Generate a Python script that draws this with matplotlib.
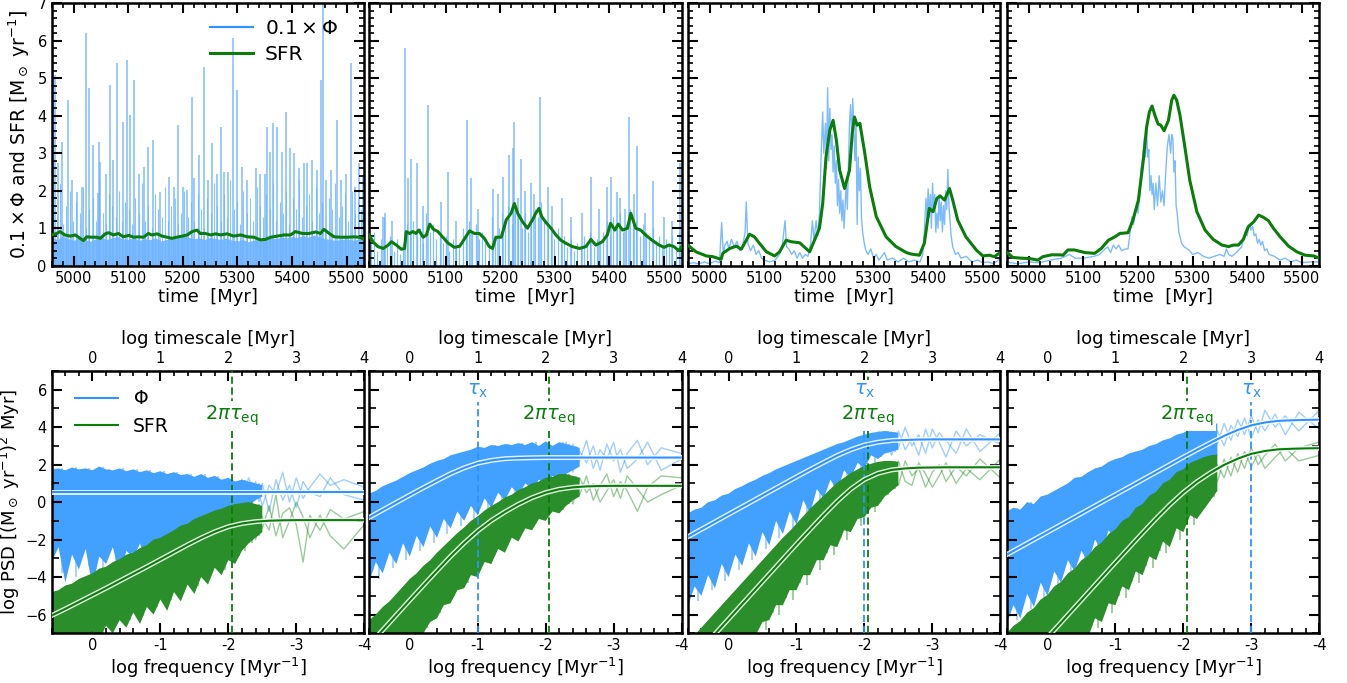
import numpy as np
import matplotlib
matplotlib.use("Agg")
import matplotlib.pyplot as plt
from matplotlib.ticker import MultipleLocator, FixedLocator

# ---------------------------------------------------------------- colours
BLUE = "#2f93ff"
BLUE_LIGHT = "#6fb4ff"
BLUE_CORE = "#42a0ff"
GREEN = "#0a7d0a"
GREEN_BAND = "#228b22"
GREEN_CORE = "#2a8f2a"

# ---------------------------------------------------------------- top row: time series
T_LIM = (4960, 5532)

# panel 1 : 0.1*Phi as a dense floor plus spikes, SFR nearly flat
p1_floor = [0.75, 0.7, 0.8, 0.72, 0.68, 0.74, 0.7, 0.65, 0.72, 0.76,
            0.7, 0.74, 0.78, 0.72, 0.7, 0.75, 0.68, 0.72, 0.7, 0.74,
            0.66, 0.7, 0.75, 0.72, 0.8, 0.76, 0.72, 0.74, 0.7, 0.76,
            0.72, 0.7, 0.74, 0.68, 0.66, 0.7, 0.64, 0.68, 0.72, 0.7,
            0.74, 0.72, 0.76, 0.74, 0.78, 0.75, 0.8, 0.76, 0.82, 0.78,
            0.72, 0.7, 0.68, 0.7, 0.72, 0.68, 0.7, 0.72]
p1_hair = [1.9, 1.3, 2.2, 1.1, 1.6, 2.0, 1.2, 1.7, 1.4, 2.1, 1.0, 1.5, 1.8, 1.2, 2.3, 1.4,
           1.1, 1.9, 1.6, 1.3, 2.0, 1.2, 1.7, 1.5, 1.1, 1.8, 1.4, 2.2, 1.2, 1.6, 1.0, 1.9,
           1.5, 1.3, 2.1, 1.2, 1.6, 1.8, 1.1, 1.4, 2.0, 1.3, 1.7, 1.2, 1.9, 1.5, 1.0, 1.8,
           1.4, 2.2, 1.6, 1.2, 1.9, 1.3, 2.3, 1.5, 1.7, 1.1, 2.0, 1.4, 1.8, 1.2, 2.1, 1.6,
           1.3, 1.9, 1.5, 2.2, 1.2, 1.7, 1.4, 2.0, 1.1, 1.8, 1.5, 2.3, 1.3, 1.6, 1.9, 1.2,
           2.1, 1.4, 1.7, 1.0, 1.8, 1.5, 2.2, 1.3, 1.6, 1.9, 1.2, 2.0, 1.4, 1.7, 1.5]
p1_spikes = [(4962, 5.9), (4966, 5.09), (4972, 2.73), (4978, 3.31), (4989, 4.42), (4997, 2.29),
             (5006, 1.98), (5015, 2.1), (5023, 6.2), (5029, 4.73), (5036, 3.22), (5044, 1.93),
             (5046, 3.31), (5049, 2.78), (5060, 2.46), (5066, 4.82), (5073, 2.82), (5080, 5.4),
             (5091, 3.84), (5098, 5.5), (5103, 4.02), (5110, 4.95), (5119, 2.46), (5129, 2.64),
             (5137, 3.18), (5145, 3.35), (5159, 1.98), (5174, 2.37), (5183, 2.1), (5192, 3.75),
             (5200, 2.1), (5208, 2.02), (5216, 4.51), (5221, 2.33), (5229, 2.95), (5238, 5.3),
             (5246, 2.29), (5254, 3.27), (5262, 2.46), (5269, 3.71), (5276, 2.51), (5283, 2.51),
             (5292, 6.07), (5299, 4.69), (5309, 2.64), (5318, 2.29), (5333, 2.6), (5341, 2.46),
             (5351, 2.46), (5354, 3.71), (5359, 3.04), (5365, 3.8), (5373, 3.71), (5382, 3.04),
             (5388, 4.11), (5396, 3.13), (5403, 3.0), (5413, 2.6), (5421, 2.73), (5428, 2.73),
             (5437, 2.82), (5445, 2.55), (5452, 4.95), (5456, 7.0), (5462, 2.29), (5471, 2.55),
             (5482, 3.89), (5490, 2.29), (5498, 2.46), (5507, 5.4), (5515, 2.1), (5523, 2.73),
             (5529, 2.37)]
p1_sfr = [(4960, 0.82), (4969, 0.86), (4975, 0.91), (4984, 0.82), (4994, 0.79), (5003, 0.82),
          (5012, 0.73), (5018, 0.67), (5024, 0.77), (5033, 0.76), (5043, 0.76), (5049, 0.73),
          (5058, 0.85), (5064, 0.88), (5073, 0.82), (5082, 0.86), (5091, 0.77), (5101, 0.81),
          (5110, 0.76), (5119, 0.77), (5128, 0.76), (5137, 0.86), (5143, 0.82), (5153, 0.85),
          (5162, 0.79), (5171, 0.76), (5180, 0.73), (5189, 0.76), (5199, 0.79), (5208, 0.82),
          (5217, 0.91), (5226, 0.95), (5232, 0.86), (5241, 0.86), (5251, 0.82), (5260, 0.85),
          (5269, 0.82), (5281, 0.85), (5293, 0.79), (5306, 0.82), (5318, 0.77), (5330, 0.76),
          (5342, 0.69), (5351, 0.70), (5361, 0.76), (5373, 0.79), (5385, 0.82), (5397, 0.82),
          (5406, 0.91), (5419, 0.86), (5431, 0.86), (5443, 0.9), (5452, 0.86), (5458, 0.97),
          (5468, 0.86), (5477, 0.77), (5489, 0.76), (5501, 0.76), (5514, 0.77), (5523, 0.76),
          (5532, 0.7)]

# panel 2
p2_hair = [0.6, 0.9, 0.4, 0.7, 1.3, 0.5, 0.8,
           0.4, 0.7, 0.3, 0.6, 1.1, 0.9,
           1.2, 0.8, 1.0, 0.6, 1.4, 0.9, 1.1, 0.7,
           0.9, 0.6, 0.8, 0.4, 0.7, 0.5, 0.6,
           1.0, 0.8, 1.2, 0.9, 1.1, 0.7, 0.9, 0.6,
           0.5, 1.3, 0.7, 1.0, 1.4,
           1.2, 1.6, 1.1, 1.5, 1.3, 1.0, 1.4, 0.9, 1.2, 1.5, 1.3, 1.7, 1.2, 1.0,
           0.9, 0.7, 1.0, 0.6, 0.8, 0.5, 0.7, 0.4, 0.6, 0.5, 0.8, 0.6, 0.9, 0.5, 0.7, 0.6,
           0.9, 1.2, 0.8, 1.3, 1.0, 1.4, 0.9, 1.1, 1.5, 1.0, 1.2, 0.8, 1.1,
           0.9, 0.7, 1.0, 0.6, 0.8, 0.5, 0.7, 0.6, 0.8, 0.5, 0.9]
p2_spikes = [(4985, 1.3), (4989, 1.4), (5002, 1.2), (5025, 5.8), (5031, 2.33), (5037, 2.86),
             (5048, 2.75), (5058, 1.6), (5068, 4.28), (5092, 1.7), (5104, 2.5), (5120, 1.2),
             (5139, 3.88), (5147, 2.33), (5160, 1.5), (5186, 2.06), (5196, 1.9), (5206, 2.37),
             (5217, 2.95), (5223, 3.13), (5226, 3.84), (5232, 1.8), (5238, 2.86), (5245, 2.0),
             (5256, 2.21), (5262, 1.9), (5272, 4.5), (5287, 2.1), (5295, 1.6), (5313, 1.8),
             (5330, 1.3), (5350, 1.4), (5366, 2.37), (5380, 1.5), (5396, 2.1), (5402, 2.37),
             (5413, 1.97), (5420, 1.8), (5428, 1.5), (5436, 3.97), (5445, 1.9), (5451, 3.2),
             (5465, 1.4), (5480, 2.26), (5500, 1.3), (5515, 1.2), (5530, 2.73)]
p2_sfr = [(4960, 0.82), (4967, 0.64), (4976, 0.51), (4986, 0.46), (4995, 0.55), (5001, 0.64),
          (5010, 0.55), (5019, 0.44), (5025, 0.46), (5028, 0.91), (5034, 0.86), (5040, 0.91),
          (5046, 0.86), (5051, 0.95), (5059, 0.76), (5065, 0.82), (5071, 1.11), (5078, 0.97),
          (5086, 0.91), (5095, 0.76), (5104, 0.61), (5116, 0.49), (5126, 0.52), (5137, 0.77),
          (5144, 0.93), (5153, 0.86), (5162, 0.86), (5171, 0.73), (5180, 0.51), (5186, 0.46),
          (5192, 0.76), (5202, 0.76), (5211, 1.22), (5220, 1.4), (5226, 1.66), (5232, 1.4),
          (5241, 1.17), (5250, 1.0), (5259, 1.22), (5265, 1.4), (5271, 1.53), (5276, 1.31),
          (5284, 1.15), (5293, 1.0), (5302, 0.82), (5311, 0.68), (5320, 0.6), (5332, 0.51),
          (5345, 0.46), (5357, 0.51), (5366, 0.7), (5375, 0.55), (5387, 0.64), (5396, 0.82),
          (5402, 1.13), (5410, 0.95), (5416, 1.11), (5424, 0.95), (5433, 1.0), (5439, 1.4),
          (5448, 1.0), (5457, 0.95), (5466, 0.82), (5478, 0.68), (5491, 0.55), (5500, 0.49),
          (5509, 0.55), (5518, 0.51), (5527, 0.4), (5532, 0.51)]

# panel 3
p3_phi = [(4960, 0.05), (4970, 0.08), (4980, 0.05), (4990, 0.1), (5000, 0.05), (5010, 0.12),
          (5018, 0.08), (5022, 1.15), (5025, 0.3), (5028, 0.55), (5032, 0.65), (5035, 0.45),
          (5040, 0.7), (5045, 0.5), (5050, 0.65), (5055, 0.4), (5060, 0.5), (5065, 0.9),
          (5067, 1.7), (5070, 0.6), (5075, 0.4), (5080, 0.55), (5085, 0.3), (5090, 0.4),
          (5095, 0.2), (5100, 0.15), (5110, 0.1), (5120, 0.15), (5128, 0.3), (5133, 0.55),
          (5138, 1.2), (5141, 0.5), (5145, 0.45), (5150, 0.3), (5155, 0.4), (5160, 0.2),
          (5165, 0.35), (5170, 0.2), (5175, 0.3), (5180, 0.25), (5185, 0.6), (5188, 1.2),
          (5191, 0.7), (5195, 1.2), (5198, 0.8), (5201, 1.4), (5204, 2.9), (5207, 4.1),
          (5209, 3.0), (5212, 3.8), (5214, 2.6), (5216, 4.75), (5218, 2.8), (5220, 4.2),
          (5222, 3.1), (5224, 3.5), (5226, 2.5), (5228, 3.2), (5230, 2.2), (5232, 2.8),
          (5234, 1.6), (5236, 2.3), (5238, 1.4), (5240, 2.0), (5242, 1.2), (5244, 1.75),
          (5246, 1.0), (5248, 1.6), (5250, 2.2), (5252, 1.5), (5254, 2.6), (5256, 3.8),
          (5258, 4.3), (5260, 3.4), (5262, 4.46), (5264, 3.6), (5266, 2.8), (5268, 3.9),
          (5270, 1.1), (5272, 2.9), (5274, 2.0), (5276, 2.6), (5278, 1.3), (5280, 0.9),
          (5283, 0.6), (5286, 0.4), (5290, 0.3), (5295, 0.45), (5300, 0.2), (5305, 0.3),
          (5310, 0.15), (5320, 0.35), (5325, 0.15), (5335, 0.2), (5345, 0.1), (5355, 0.2),
          (5365, 0.1), (5375, 0.15), (5385, 0.1), (5390, 0.3), (5393, 0.9), (5396, 1.8),
          (5398, 1.2), (5400, 2.05), (5402, 1.3), (5404, 1.9), (5406, 1.0), (5408, 2.2),
          (5410, 1.5), (5412, 1.9), (5414, 0.9), (5416, 1.4), (5418, 1.0), (5420, 1.9),
          (5422, 1.2), (5424, 1.7), (5426, 0.9), (5428, 1.6), (5430, 1.1), (5432, 2.0),
          (5434, 1.5), (5436, 2.57), (5438, 1.6), (5440, 1.2), (5442, 0.8), (5445, 0.5),
          (5450, 0.3), (5455, 0.35), (5460, 0.2), (5470, 0.25), (5480, 0.1), (5490, 0.15),
          (5500, 0.08), (5510, 0.1), (5520, 0.05), (5532, 0.2)]
p3_sfr = [(4960, 0.55), (4975, 0.37), (4994, 0.26), (5006, 0.24), (5021, 0.17), (5024, 0.33),
          (5037, 0.46), (5049, 0.52), (5058, 0.44), (5067, 0.68), (5073, 0.84), (5082, 0.77),
          (5091, 0.6), (5104, 0.37), (5119, 0.26), (5128, 0.37), (5140, 0.68), (5149, 0.64),
          (5165, 0.61), (5183, 0.37), (5192, 0.68), (5201, 1.0), (5207, 1.66), (5213, 2.9),
          (5220, 3.62), (5226, 3.88), (5232, 3.35), (5238, 2.55), (5247, 2.06), (5256, 2.55),
          (5261, 3.53), (5265, 3.97), (5270, 3.75), (5275, 3.8), (5284, 3.0), (5293, 2.1),
          (5305, 1.31), (5323, 0.77), (5341, 0.51), (5360, 0.35), (5369, 0.31), (5384, 0.28),
          (5393, 0.6), (5402, 1.53), (5409, 1.44), (5416, 1.8), (5422, 1.86), (5430, 1.75),
          (5439, 2.06), (5445, 1.75), (5454, 1.22), (5469, 0.77), (5488, 0.42), (5500, 0.26),
          (5512, 0.28), (5521, 0.24), (5530, 0.33)]

# panel 4
p4_phi = [(4960, 0.1), (4980, 0.05), (5000, 0.1), (5020, 0.08), (5040, 0.15), (5060, 0.2),
          (5075, 0.3), (5085, 0.2), (5100, 0.2), (5120, 0.25), (5130, 0.3), (5140, 0.45),
          (5145, 0.5), (5150, 0.35), (5155, 0.55), (5160, 0.45), (5165, 0.55), (5170, 0.4),
          (5178, 0.45), (5182, 0.45), (5186, 0.9), (5189, 1.3), (5192, 1.1), (5195, 1.4),
          (5198, 1.6), (5200, 1.4), (5203, 1.8), (5206, 2.6), (5209, 2.9), (5212, 3.4),
          (5214, 2.9), (5216, 3.6), (5218, 2.9), (5220, 3.1), (5222, 2.0), (5224, 2.4),
          (5226, 1.9), (5228, 2.2), (5230, 1.5), (5233, 2.2), (5236, 1.6), (5239, 2.4),
          (5242, 1.7), (5245, 2.0), (5248, 1.6), (5251, 2.5), (5254, 3.2), (5257, 3.5),
          (5260, 3.0), (5262, 3.5), (5264, 3.4), (5266, 2.5), (5268, 2.8), (5270, 1.6),
          (5272, 1.4), (5275, 0.9), (5280, 0.6), (5285, 0.5), (5290, 0.45), (5295, 0.4),
          (5300, 0.3), (5310, 0.35), (5320, 0.25), (5330, 0.2), (5340, 0.25), (5350, 0.3),
          (5358, 0.25), (5362, 0.45), (5366, 0.3), (5372, 0.25), (5380, 0.35), (5390, 0.5),
          (5396, 0.9), (5400, 0.8), (5404, 1.1), (5407, 0.95), (5410, 1.05), (5413, 0.8),
          (5416, 0.85), (5419, 0.6), (5422, 0.7), (5425, 0.55), (5428, 0.65), (5432, 0.4),
          (5436, 0.45), (5440, 0.3), (5450, 0.25), (5460, 0.15), (5470, 0.2), (5480, 0.1),
          (5490, 0.15), (5500, 0.08), (5515, 0.1), (5532, 0.1)]
p4_sfr = [(4961, 0.35), (4971, 0.22), (4987, 0.2), (5002, 0.19), (5017, 0.15), (5026, 0.24),
          (5042, 0.29), (5057, 0.29), (5063, 0.28), (5072, 0.42), (5084, 0.42), (5103, 0.35),
          (5121, 0.33), (5133, 0.46), (5146, 0.68), (5158, 0.77), (5167, 0.86), (5182, 0.88),
          (5191, 1.22), (5201, 1.75), (5210, 2.82), (5216, 3.7), (5221, 4.1), (5226, 4.26),
          (5231, 4.02), (5237, 3.78), (5242, 3.75), (5248, 3.6), (5256, 3.88), (5262, 4.42),
          (5266, 4.55), (5271, 4.42), (5277, 4.02), (5286, 3.17), (5295, 2.28), (5308, 1.44),
          (5323, 0.95), (5338, 0.7), (5354, 0.55), (5366, 0.51), (5375, 0.55), (5384, 0.55),
          (5393, 0.7), (5402, 1.04), (5412, 1.17), (5421, 1.35), (5430, 1.29), (5439, 1.2),
          (5448, 1.0), (5461, 0.76), (5476, 0.52), (5491, 0.37), (5506, 0.28), (5522, 0.26),
          (5532, 0.2)]

# ---------------------------------------------------------------- bottom row: power spectra
# model curves sampled in log frequency
model_lf = [0.6, 0.4, 0.2, 0.0, -0.2, -0.4, -0.6, -0.8, -1.0, -1.2, -1.4, -1.6,
            -1.8, -2.0, -2.2, -2.4, -2.6, -2.8, -3.0, -3.2, -3.4, -3.6, -3.8, -4.0]
m1_phi = [0.55] * 24
m1_sfr = [-6.05, -5.7, -5.33, -4.96, -4.59, -4.21, -3.83, -3.45, -3.06, -2.67, -2.28, -1.91,
          -1.58, -1.31, -1.14, -1.04, -0.99, -0.97, -0.96, -0.96, -0.96, -0.96, -0.96, -0.96]
m2_phi = [-0.82, -0.42, -0.02, 0.38, 0.77, 1.15, 1.52, 1.83, 2.08, 2.23, 2.32, 2.35,
          2.37, 2.38, 2.38, 2.38, 2.38, 2.38, 2.38, 2.38, 2.38, 2.38, 2.38, 2.38]
m2_sfr = [-7.63, -6.83, -6.03, -5.23, -4.44, -3.66, -2.89, -2.18, -1.53, -0.98, -0.52, -0.11,
          0.24, 0.51, 0.69, 0.79, 0.84, 0.86, 0.87, 0.87, 0.87, 0.87, 0.87, 0.87]
m3_phi = [-1.85, -1.45, -1.05, -0.65, -0.25, 0.15, 0.55, 0.95, 1.35, 1.74, 2.12, 2.49,
          2.80, 3.05, 3.20, 3.29, 3.32, 3.34, 3.35, 3.35, 3.35, 3.35, 3.35, 3.35]
m3_sfr = [-8.64, -7.84, -7.04, -6.24, -5.44, -4.64, -3.84, -3.04, -2.24, -1.46, -0.69, 0.05,
          0.70, 1.21, 1.54, 1.72, 1.80, 1.84, 1.85, 1.86, 1.86, 1.86, 1.86, 1.86]
m4_phi = [-2.8, -2.4, -2.0, -1.6, -1.2, -0.8, -0.4, 0.0, 0.4, 0.8, 1.2, 1.6,
          2.0, 2.4, 2.79, 3.17, 3.54, 3.85, 4.10, 4.25, 4.34, 4.37, 4.39, 4.40]
m4_sfr = [-9.62, -8.82, -8.02, -7.22, -6.42, -5.62, -4.82, -4.02, -3.22, -2.43, -1.64, -0.87,
          -0.14, 0.52, 1.09, 1.57, 1.99, 2.32, 2.58, 2.73, 2.82, 2.85, 2.87, 2.88]

# envelope of the densely sampled periodograms (high-frequency part)
band_lf = [0.6, 0.5, 0.4, 0.3, 0.2, 0.1, 0.0, -0.1, -0.2, -0.3, -0.4, -0.5, -0.6, -0.7, -0.8,
           -0.9, -1.0, -1.1, -1.2, -1.3, -1.4, -1.5, -1.6, -1.7, -1.8, -1.9, -2.0, -2.1, -2.2,
           -2.3, -2.4, -2.5]
b1_phi_hi = [1.75, 1.8, 1.7, 1.85, 1.75, 1.8, 1.7, 1.9, 1.75, 1.7, 1.8, 1.65, 1.75, 1.6, 1.7,
             1.55, 1.65, 1.5, 1.6, 1.45, 1.5, 1.35, 1.5, 1.3, 1.4, 1.2, 1.3, 1.1, 1.2, 1.1, 1.0, 0.9]
b1_phi_lo = [-3.2, -2.4, -4.3, -2.8, -3.6, -2.5, -4.5, -2.9, -3.3, -2.4, -3.9, -2.6, -3.0, -2.2, -3.4,
             -2.3, -2.7, -1.9, -2.9, -1.8, -2.3, -1.5, -2.1, -1.3, -1.7, -1.0, -1.4, -0.7, -0.9,
             -0.2, 0.1, 0.3]
b1_sfr_hi = [-4.8, -4.7, -4.45, -4.35, -4.1, -3.95, -3.8, -3.55, -3.45, -3.2, -3.05, -2.8, -2.7, -2.45,
             -2.3, -2.0, -1.9, -1.7, -1.5, -1.25, -1.15, -0.9, -0.75, -0.6, -0.45, -0.35, -0.2, -0.1,
             -0.05, 0.0, -0.1, -0.2]
b1_sfr_lo = [-7.5, -7.5, -7.4, -7.5, -7.2, -7.5, -6.9, -7.3, -6.6, -7.0, -6.3, -6.7, -5.9, -6.5, -5.6,
             -6.0, -5.2, -5.8, -4.8, -5.3, -4.4, -4.9, -4.0, -4.4, -3.5, -3.9, -3.1, -3.3, -2.6,
             -2.2, -1.9, -1.6]
b2_phi_hi = [0.45, 0.6, 0.85, 1.0, 1.15, 1.35, 1.55, 1.7, 1.85, 2.05, 2.2, 2.3, 2.5, 2.6, 2.7,
             2.8, 2.95, 2.9, 3.05, 3.0, 3.1, 3.05, 3.15, 3.05, 3.2, 3.0, 3.25, 3.0, 3.2, 3.1, 3.0, 2.9]
b2_phi_lo = [-4.3, -3.2, -3.8, -2.7, -3.3, -2.2, -2.9, -1.8, -2.4, -1.3, -1.9, -0.9, -1.4, -0.5, -1.0,
             -0.2, -0.7, 0.2, -0.3, 0.5, 0.1, 0.8, 0.4, 1.0, 0.7, 1.2, 0.9, 1.4, 1.2, 1.5, 1.7, 1.9]
b2_sfr_hi = [-6.3, -6.0, -5.6, -5.3, -4.9, -4.5, -4.1, -3.8, -3.4, -3.1, -2.7, -2.35, -2.0, -1.65,
             -1.35, -1.0, -0.75, -0.45, -0.2, 0.0, 0.25, 0.4, 0.65, 0.8, 1.0, 1.1, 1.3, 1.35, 1.5,
             1.5, 1.4, 1.3]
b2_sfr_lo = [-8.0, -8.0, -8.0, -8.0, -8.0, -8.0, -7.8, -7.3, -7.0, -6.4, -6.2, -5.5, -5.4, -4.7, -4.6,
             -3.9, -4.0, -3.2, -3.3, -2.5, -2.7, -1.9, -2.1, -1.4, -1.5, -0.9, -1.0, -0.5, -0.6,
             -0.2, 0.1, 0.3]
b3_phi_hi = [-0.6, -0.4, -0.3, 0.0, 0.1, 0.35, 0.45, 0.7, 0.85, 1.05, 1.2, 1.4, 1.55, 1.75, 1.9,
             2.05, 2.2, 2.35, 2.5, 2.65, 2.8, 2.95, 3.1, 3.2, 3.35, 3.5, 3.6, 3.7, 3.75, 3.8, 3.75, 3.7]
b3_phi_lo = [-5.6, -4.5, -5.0, -3.9, -4.6, -3.3, -4.0, -2.8, -3.4, -2.2, -2.9, -1.6, -2.3, -1.0, -1.7,
             -0.5, -1.2, 0.1, -0.6, 0.7, 0.2, 1.2, 0.6, 1.7, 1.3, 2.1, 1.8, 2.5, 2.3, 2.6, 2.7, 2.8]
b3_sfr_hi = [-7.4, -7.1, -6.7, -6.3, -5.9, -5.5, -5.1, -4.7, -4.3, -3.9, -3.5, -3.1, -2.7, -2.3, -1.9,
             -1.55, -1.15, -0.75, -0.35, 0.0, 0.35, 0.7, 1.05, 1.3, 1.55, 1.75, 1.95, 2.05, 2.15,
             2.2, 2.2, 2.15]
b3_sfr_lo = [-9.0, -9.0, -9.0, -9.0, -9.0, -9.0, -8.6, -7.9, -7.9, -7.2, -7.1, -6.4, -6.3, -5.5, -5.5,
             -4.7, -4.7, -3.9, -3.9, -3.1, -3.1, -2.3, -2.4, -1.5, -1.6, -0.9, -0.8, -0.3, -0.2,
             0.3, 0.6, 0.9]
b4_phi_hi = [-0.5, -0.3, -0.4, 0.0, -0.1, 0.3, 0.4, 0.6, 0.8, 1.0, 1.3, 1.35, 1.6, 1.8, 1.9,
             2.15, 2.3, 2.4, 2.6, 2.7, 2.8, 3.0, 3.1, 3.3, 3.4, 3.6, 3.7, 3.9, 4.0, 4.1, 4.15, 4.2]
b4_phi_lo = [-6.5, -5.5, -6.2, -4.9, -5.6, -4.3, -5.0, -3.7, -4.3, -3.1, -3.7, -2.6, -3.2, -2.0, -2.6,
             -1.5, -2.1, -1.0, -1.5, -0.5, -1.0, 0.0, -0.3, 0.5, 0.3, 0.9, 0.8, 1.4, 1.3, 1.7, 2.1, 2.5]
b4_sfr_hi = [-7.0, -6.6, -6.35, -5.9, -5.65, -5.2, -4.95, -4.5, -4.25, -3.8, -3.55, -3.1, -2.85, -2.4,
             -2.15, -1.7, -1.45, -1.0, -0.8, -0.3, -0.1, 0.35, 0.55, 1.0, 1.2, 1.6, 1.75, 2.1, 2.25,
             2.4, 2.5, 2.55]
b4_sfr_lo = [-10.0, -10.0, -10.0, -10.0, -10.0, -9.5, -9.2, -8.5, -8.6, -7.8, -7.9, -7.0, -7.2, -6.2,
             -6.4, -5.4, -5.5, -4.5, -4.7, -3.7, -3.9, -2.9, -3.1, -2.1, -2.4, -1.4, -1.6, -0.7, -0.9,
             -0.4, 0.1, 0.6]
# lowest points of the periodograms between the envelope samples (half a step to the right)
h1_phi = [-2.6, -3.8, -2.9, -4.0, -2.7, -3.4, -3.1, -4.2, -2.6, -3.2, -2.8, -3.7, -2.5, -2.9, -3.3,
          -2.2, -2.6, -2.1, -2.5, -1.7, -2.0, -1.6, -1.4, -1.8, -1.1, -1.3, -0.6, -0.8, -0.6, -0.2, 0.0]
h1_sfr = [-7.5, -7.5, -7.2, -7.5, -6.8, -7.4, -6.5, -7.1, -6.2, -6.6, -5.8, -6.3, -5.4, -6.1, -5.0,
          -5.6, -4.6, -5.2, -4.2, -4.8, -3.8, -4.5, -3.4, -3.9, -3.0, -3.6, -2.5, -2.9, -2.6, -2.2, -1.8]
h2_phi = [-3.6, -4.1, -3.0, -3.5, -2.4, -3.1, -2.0, -2.6, -1.6, -2.2, -1.1, -1.7, -0.7, -1.3, -0.3,
          -0.9, 0.0, -0.5, 0.3, -0.2, 0.6, 0.2, 0.9, 0.5, 1.1, 0.8, 1.3, 1.1, 1.4, 1.6, 1.8]
h2_sfr = [-8.0, -8.0, -8.0, -8.0, -8.0, -7.6, -7.4, -6.8, -6.7, -6.0, -5.9, -5.1, -5.0, -4.3, -4.3,
          -3.6, -3.5, -2.9, -2.8, -2.2, -2.3, -1.7, -1.6, -1.2, -1.1, -0.7, -0.6, -0.3, -0.4, -0.1, 0.2]
h3_phi = [-4.9, -5.3, -4.3, -4.7, -3.7, -4.2, -3.1, -3.6, -2.5, -3.1, -1.9, -2.5, -1.3, -1.9, -0.8,
          -1.4, -0.2, -0.8, 0.4, -0.1, 0.9, 0.4, 1.4, 1.0, 1.8, 1.5, 2.3, 2.0, 2.4, 2.6, 2.7]
h3_sfr = [-9.0, -9.0, -9.0, -9.0, -9.0, -8.8, -8.2, -8.1, -7.5, -7.5, -6.7, -6.8, -5.9, -6.0, -5.1,
          -5.2, -4.3, -4.4, -3.5, -3.6, -2.7, -2.8, -1.9, -2.0, -1.2, -1.3, -0.6, -0.5, 0.0, 0.4, 0.7]
h4_phi = [-5.8, -6.3, -5.2, -5.7, -4.6, -5.2, -4.0, -4.6, -3.4, -4.0, -2.9, -3.4, -2.3, -2.9, -1.8,
          -2.4, -1.3, -1.8, -0.8, -1.3, -0.3, -0.7, 0.2, -0.1, 0.6, 0.5, 1.1, 1.0, 1.5, 1.9, 2.3]
h4_sfr = [-10.0, -10.0, -10.0, -10.0, -9.8, -9.4, -8.8, -8.9, -8.2, -8.3, -7.4, -7.5, -6.6, -6.7, -5.8,
          -5.9, -5.0, -5.1, -4.2, -4.3, -3.4, -3.5, -2.6, -2.7, -1.8, -2.0, -1.2, -1.2, -0.6, -0.1, 0.3]

# individual periodograms at the lowest frequencies
sparse_lf = [-2.2, -2.3, -2.4, -2.5, -2.6, -2.7, -2.8, -2.9, -3.0, -3.1, -3.2, -3.35, -3.5, -3.7, -4.0]
s1_phi = [[1.2, 0.3, 1.1, -0.2, 0.9, 0.4, 1.6, 0.0, 1.3, 0.2, 0.8, 1.5, 0.9, 1.2, 0.8],
          [0.4, 1.3, 0.2, 1.0, -0.5, 1.2, 0.1, 0.9, -0.3, 1.1, 0.5, 0.3, 1.3, 0.4, 0.1]]
s1_sfr = [[-0.5, -1.6, -0.4, -1.4, -0.2, -1.8, -0.6, -0.3, -1.2, -3.2, -0.7, -1.5, -0.4, -0.9, -0.5],
          [-1.3, -0.6, -2.0, -0.8, -1.5, 0.4, -1.9, -1.0, 0.0, -0.8, -1.9, -0.7, -1.8, -2.5, -1.2]]
s2_phi = [[2.9, 1.9, 3.1, 2.2, 3.3, 1.8, 2.8, 2.3, 3.2, 1.6, 2.6, 3.3, 2.0, 2.9, 2.6],
          [2.0, 3.2, 1.6, 2.7, 2.1, 3.0, 1.7, 3.1, 2.2, 2.8, 1.8, 2.3, 3.2, 1.7, 2.3]]
s2_sfr = [[1.3, 0.2, 1.0, 0.4, 1.4, 0.1, 0.9, 1.5, 0.3, 1.1, 0.6, -0.5, 0.8, 1.4, 1.3],
          [0.3, 1.2, -0.1, 1.3, 0.5, 1.0, 0.0, 0.6, 1.2, 0.2, 1.4, 0.7, 0.0, 0.4, 0.9]]
s3_phi = [[3.9, 2.6, 3.7, 2.9, 4.0, 3.0, 3.6, 2.6, 3.9, 3.2, 2.4, 3.8, 3.0, 3.6, 3.1],
          [2.7, 3.6, 2.5, 3.8, 2.8, 3.4, 2.5, 3.9, 2.9, 3.7, 3.3, 2.6, 3.9, 2.7, 3.7]]
s3_sfr = [[2.1, 1.2, 1.9, 0.9, 2.2, 1.4, 1.8, 0.8, 1.6, 2.0, 1.1, 1.9, 1.4, 2.3, 1.3],
          [1.0, 2.0, 1.3, 2.2, 1.1, 0.9, 2.1, 1.5, 0.8, 1.4, 2.1, 1.0, 1.8, 1.2, 2.3]]
s4_phi = [[3.5, 2.6, 3.9, 3.1, 4.2, 3.3, 4.4, 3.6, 4.6, 3.7, 4.9, 4.0, 4.6, 3.8, 4.9],
          [2.4, 3.4, 2.9, 3.8, 3.0, 4.1, 3.5, 4.5, 3.4, 4.4, 3.8, 4.7, 3.6, 4.8, 3.9]]
s4_sfr = [[1.6, 0.5, 1.9, 1.1, 2.3, 1.4, 2.6, 1.8, 2.9, 2.0, 2.5, 3.1, 2.2, 2.9, 3.2],
          [0.6, 1.5, 1.0, 2.0, 1.3, 2.4, 1.6, 2.7, 1.9, 2.6, 1.8, 2.4, 2.9, 2.2, 2.5]]

# characteristic timescales (log frequency of the markers)
lf_eq = -2.05
lf_x = [None, -1.0, -2.0, -3.0]

# ---------------------------------------------------------------- figure
plt.rcParams["font.family"] = ["DejaVu Sans"]
fig = plt.figure(figsize=(13.47, 6.83), dpi=100)
lefts = [0.0384, 0.2740, 0.5106, 0.7474]
W, H = 0.232, 0.384
top_axes = [fig.add_axes([l, 0.611, W, H]) for l in lefts]
bot_axes = [fig.add_axes([l, 0.0728, W, H]) for l in lefts]


def style(ax, top=True):
    for s in ax.spines.values():
        s.set_linewidth(1.8)
    ax.tick_params(which="both", direction="in", top=top, right=True, labelsize=10.5)
    ax.tick_params(which="major", length=7, width=1.5)
    ax.tick_params(which="minor", length=3.5, width=1.2)


# ---- time series
for i, ax in enumerate(top_axes):
    style(ax)
    ax.set_xlim(*T_LIM)
    ax.set_ylim(0, 7)
    ax.xaxis.set_major_locator(MultipleLocator(100))
    ax.xaxis.set_minor_locator(MultipleLocator(20))
    ax.yaxis.set_major_locator(MultipleLocator(1))
    ax.yaxis.set_minor_locator(MultipleLocator(0.2))
    ax.set_xlabel("time  [Myr]", fontsize=13, labelpad=2)
    if i > 0:
        ax.set_yticklabels([])

ax = top_axes[0]
ft = 4960 + 10 * np.arange(len(p1_floor))
ax.fill_between(ft, 0, p1_floor, color=BLUE_LIGHT, lw=0, alpha=0.9, zorder=1)
ht = 4963 + 6 * np.arange(len(p1_hair))
ax.vlines(ht, 0, p1_hair, color=BLUE_LIGHT, lw=0.8, alpha=0.8, zorder=1)
st, sv = np.array(p1_spikes).T
ax.vlines(st, 0, sv, color=BLUE_LIGHT, lw=1.1, alpha=0.9, zorder=1)
ax.plot([], [], color=BLUE, lw=1.6, label=r"$0.1\times\Phi$")
gt, gv = np.array(p1_sfr).T
ax.plot(gt, gv, color=GREEN, lw=2.2, zorder=3, label="SFR")
ax.set_ylabel(r"$0.1\times\Phi$ and SFR [M$_\odot$ yr$^{-1}$]", fontsize=13.5, labelpad=4)
ax.legend(loc="upper right", bbox_to_anchor=(0.975, 1.01), frameon=False, fontsize=14.5,
          handlelength=2.1, handletextpad=0.6, labelspacing=0.35)

ax = top_axes[1]
ht = 4963 + 6 * np.arange(len(p2_hair))
ax.vlines(ht, 0, p2_hair, color=BLUE_LIGHT, lw=0.9, alpha=0.85, zorder=1)
st, sv = np.array(p2_spikes).T
ax.vlines(st, 0, sv, color=BLUE_LIGHT, lw=1.1, alpha=0.9, zorder=1)
gt, gv = np.array(p2_sfr).T
ax.plot(gt, gv, color=GREEN, lw=2.2, zorder=3)

for ax, phi, sfr in ((top_axes[2], p3_phi, p3_sfr), (top_axes[3], p4_phi, p4_sfr)):
    bt, bv = np.array(phi).T
    ax.plot(bt, bv, color=BLUE_LIGHT, lw=1.0, alpha=0.9, zorder=1)
    gt, gv = np.array(sfr).T
    ax.plot(gt, gv, color=GREEN, lw=2.2, zorder=3)

# ---- power spectra
models = [(m1_phi, m1_sfr), (m2_phi, m2_sfr), (m3_phi, m3_sfr), (m4_phi, m4_sfr)]
bands = [(b1_phi_hi, b1_phi_lo, b1_sfr_hi, b1_sfr_lo),
         (b2_phi_hi, b2_phi_lo, b2_sfr_hi, b2_sfr_lo),
         (b3_phi_hi, b3_phi_lo, b3_sfr_hi, b3_sfr_lo),
         (b4_phi_hi, b4_phi_lo, b4_sfr_hi, b4_sfr_lo)]
hairs = [(h1_phi, h1_sfr), (h2_phi, h2_sfr), (h3_phi, h3_sfr), (h4_phi, h4_sfr)]
sparse = [(s1_phi, s1_sfr), (s2_phi, s2_sfr), (s3_phi, s3_sfr), (s4_phi, s4_sfr)]

bx = np.array(band_lf)
hx = bx[:-1] - 0.05


def draw_band(ax, hi, lo, hair, core, color, z):
    """Solid body of the periodograms with thin downward strokes behind it."""
    hi, lo = np.asarray(hi), np.asarray(lo)
    ax.vlines(hx, hair, hi[:-1], color=color, lw=1.1, alpha=0.55, zorder=z)
    ax.fill(np.r_[bx, bx[::-1]], np.r_[hi, lo[::-1]], color=core, lw=0, zorder=z + 0.2)


for i, ax in enumerate(bot_axes):
    style(ax, top=False)
    ax.set_xlim(0.6, -4.0)
    ax.set_ylim(-7, 7)
    ax.xaxis.set_major_locator(FixedLocator([0, -1, -2, -3, -4]))
    ax.set_xticklabels(["0", "-1", "-2", "-3", "-4"])
    ax.xaxis.set_minor_locator(MultipleLocator(0.2))
    ax.yaxis.set_major_locator(MultipleLocator(2))
    ax.yaxis.set_minor_locator(MultipleLocator(1))
    ax.tick_params(axis="y", which="minor", length=5)
    ax.set_xlabel(r"log frequency [Myr$^{-1}$]", fontsize=13, labelpad=2)
    if i > 0:
        ax.set_yticklabels([])

    sec = ax.secondary_xaxis("top", functions=(lambda x: -x, lambda x: -x))
    sec.xaxis.set_major_locator(FixedLocator([0, 1, 2, 3, 4]))
    sec.xaxis.set_minor_locator(MultipleLocator(0.2))
    sec.tick_params(which="both", direction="in", labelsize=10.5)
    sec.tick_params(which="major", length=7, width=1.5)
    sec.tick_params(which="minor", length=3.5, width=1.2)
    sec.set_xlabel("log timescale [Myr]", fontsize=13, labelpad=5)

    phi_hi, phi_lo, sfr_hi, sfr_lo = bands[i]
    draw_band(ax, phi_hi, phi_lo, hairs[i][0], BLUE_CORE, BLUE, 1)
    draw_band(ax, sfr_hi, sfr_lo, hairs[i][1], GREEN_CORE, GREEN_BAND, 2)
    for line in sparse[i][0]:
        ax.plot(sparse_lf, line, color=BLUE, lw=1.0, alpha=0.45, zorder=1)
    for line in sparse[i][1]:
        ax.plot(sparse_lf, line, color=GREEN_BAND, lw=1.0, alpha=0.45, zorder=2)

    mphi, msfr = models[i]
    ax.plot(model_lf, mphi, color="white", lw=3.6, alpha=0.85, zorder=4)
    ax.plot(model_lf, mphi, color=BLUE, lw=1.5, zorder=5, label=r"$\Phi$")
    ax.plot(model_lf, msfr, color="white", lw=3.6, alpha=0.85, zorder=4)
    ax.plot(model_lf, msfr, color=GREEN, lw=1.5, zorder=5, label="SFR")

    ax.plot([lf_eq, lf_eq], [-7, 7], color=GREEN, lw=1.3, ls=(0, (4, 2)), zorder=3)
    ax.text(lf_eq, 4.6, r"$2\pi\tau_{\rm eq}$", color=GREEN, fontsize=14, ha="center", va="center",
            zorder=6, bbox=dict(facecolor="white", edgecolor="none", pad=2))
    if lf_x[i] is not None:
        ax.plot([lf_x[i], lf_x[i]], [-7, 5.4], color=BLUE, lw=1.3, ls=(0, (4, 2)), zorder=3)
        ax.text(lf_x[i], 5.95, r"$\tau_{\rm x}$", color=BLUE, fontsize=14, ha="center", va="center",
                zorder=6, bbox=dict(facecolor="white", edgecolor="none", pad=1))

bot_axes[0].set_ylabel(r"log PSD [(M$_\odot$ yr$^{-1}$)$^2$ Myr]", fontsize=13, labelpad=2)
bot_axes[0].legend(loc="upper left", bbox_to_anchor=(0.02, 0.995), frameon=False, fontsize=13.5,
                   handlelength=2.3, handletextpad=0.8, labelspacing=0.45)

fig.savefig("out.png", dpi=100)
